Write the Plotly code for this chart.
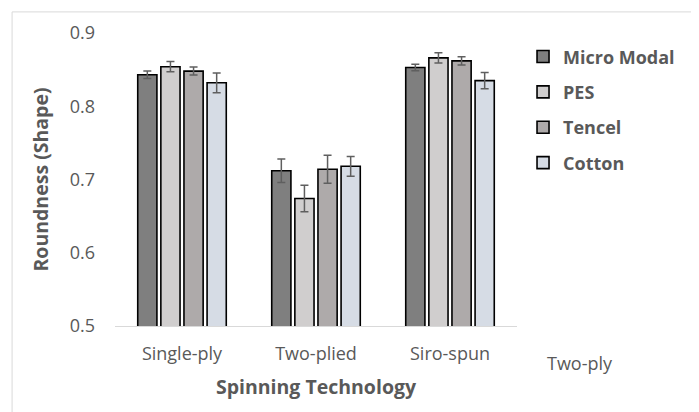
import plotly.graph_objects as go

categories = ["Single-ply", "Two-plied", "Siro-spun"]
series_names = ["Micro Modal", "PES", "Tencel", "Cotton"]
micro_modal = [0.843, 0.712, 0.853]
micro_modal_err = [0.005, 0.016, 0.0045]
pes = [0.854, 0.674, 0.866]
pes_err = [0.007, 0.018, 0.007]
tencel = [0.848, 0.714, 0.862]
tencel_err = [0.0055, 0.019, 0.0056]
cotton = [0.832, 0.718, 0.835]
cotton_err = [0.0135, 0.0135, 0.011]
y_ticks = [0.5, 0.6, 0.7, 0.8, 0.9]

values = [micro_modal, pes, tencel, cotton]
errors = [micro_modal_err, pes_err, tencel_err, cotton_err]
colors = ["#7f7f7f", "#d0cece", "#aeaaaa", "#d6dce5"]

FONT = "Open Sans, Noto Sans, sans-serif"
GREY = "#595959"

fig = go.Figure()
for name, v, e, c in zip(series_names, values, errors, colors):
    fig.add_trace(go.Bar(
        x=categories, y=v, name=name, legendgroup=name,
        marker=dict(color=c, line=dict(color="#000000", width=1.6)),
        error_y=dict(type="data", array=e, visible=True, color="#5f5f5f",
                     thickness=1.5, width=4),
    ))

fig.update_layout(
    width=691, height=404,
    margin=dict(l=107, r=182, t=22, b=86),
    paper_bgcolor="white", plot_bgcolor="white",
    barmode="group", bargap=0.31, bargroupgap=0.17,
    font=dict(family=FONT, color=GREY, size=15),
    showlegend=True,
    legend=dict(x=1.015, y=0.982, xanchor="left", yanchor="top",
                font=dict(family=FONT, size=18, color=GREY, weight="bold"),
                tracegroupgap=9, traceorder="grouped",
                bgcolor="rgba(0,0,0,0)"),
    xaxis=dict(
        showgrid=False, showline=True, linecolor="#d9d9d9", linewidth=1,
        ticks="", ticklabelstandoff=11,
        tickfont=dict(family=FONT, size=18, color=GREY),
        title=dict(text="Spinning Technology", standoff=16,
                   font=dict(family=FONT, size=19.5, color=GREY, weight="bold")),
    ),
    yaxis=dict(
        range=[0.5, 0.9], tickvals=y_ticks, tickformat=".1f",
        showgrid=False, showline=False, zeroline=False, ticks="",
        ticklabelstandoff=19,
        tickfont=dict(family=FONT, size=18, color=GREY),
        title=dict(text="Roundness (Shape)", standoff=15,
                   font=dict(family=FONT, size=19.5, color=GREY, weight="bold")),
    ),
    shapes=[dict(type="rect", xref="paper", yref="paper",
                 x0=-0.256, x1=1.435, y0=-0.4, y1=1.072,
                 line=dict(color="#d9d9d9", width=1), fillcolor="rgba(0,0,0,0)",
                 layer="below")],
    annotations=[dict(text="Two-ply", xref="paper", yref="paper",
                      x=1.07, y=-0.125, xanchor="left", yanchor="middle",
                      showarrow=False,
                      font=dict(family=FONT, size=18, color=GREY))],
)

fig.write_html("out.html")
